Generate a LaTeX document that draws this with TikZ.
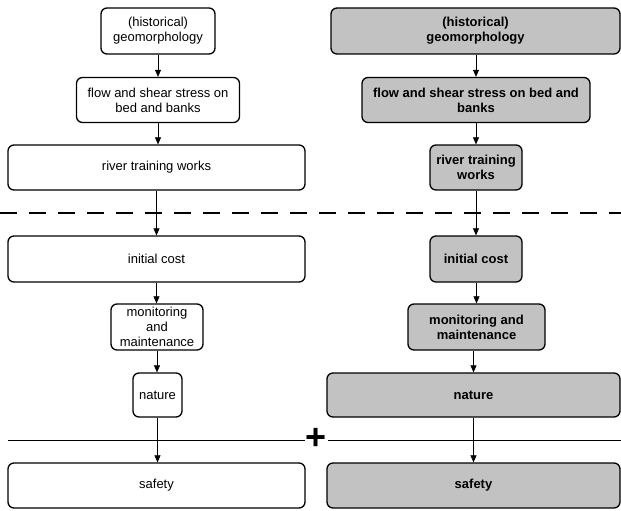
\documentclass[tikz,border=0pt]{standalone}
\usepackage{fontspec}
\setmainfont{Liberation Sans}
\usetikzlibrary{arrows.meta}
\begin{document}
\begin{tikzpicture}[x=1pt,y=-1pt,
  box/.style={draw,line width=1.3pt,rounded corners=6pt,align=center,font=\fontsize{13}{15}\selectfont,inner sep=0pt},
  lbox/.style={box,fill=white},
  rbox/.style={box,fill=gray!50!white!95,font=\fontsize{13}{15}\selectfont\bfseries},
  conn/.style={-{Triangle[width=6pt,length=7pt]},line width=0.6pt}]
\useasboundingbox (0,0) rectangle (621,511);
% left column
\node[lbox,minimum width=114pt,minimum height=46pt] (l1) at (158,31) {(historical)\\geomorphology};
\node[lbox,minimum width=163pt,minimum height=45pt] (l2) at (158,100) {flow and shear stress on\\bed and banks};
\node[lbox,minimum width=297pt,minimum height=45pt] (l3) at (156.5,167.5) {river training works};
\node[lbox,minimum width=297pt,minimum height=46pt] (l4) at (156.5,259) {initial cost};
\node[lbox,minimum width=92pt,minimum height=46pt] (l5) at (157,327) {monitoring\\and\\maintenance};
\node[lbox,minimum width=49pt,minimum height=44pt] (l6) at (157.5,395) {nature};
\node[lbox,minimum width=297pt,minimum height=45pt] (l7) at (156.5,485.5) {safety};
% right column
\node[rbox,minimum width=289pt,minimum height=46pt] (r1) at (475.5,31) {(historical)\\geomorphology};
\node[rbox,minimum width=228pt,minimum height=45pt] (r2) at (476,100) {flow and shear stress on bed and\\banks};
\node[rbox,minimum width=92pt,minimum height=45pt] (r3) at (476,167.5) {river training\\works};
\node[rbox,minimum width=92pt,minimum height=46pt] (r4) at (476,259) {initial cost};
\node[rbox,minimum width=137pt,minimum height=46pt] (r5) at (476.5,327) {monitoring and\\maintenance};
\node[rbox,minimum width=293pt,minimum height=44pt] (r6) at (473.5,395) {nature};
\node[rbox,minimum width=293pt,minimum height=45pt] (r7) at (473.5,485.5) {safety};
% separators
\coordinate (dL) at (0,213);
\coordinate (dR) at (621,213);
\draw[line width=2pt,dash pattern=on 17pt off 12pt] (dL) -- (dR);
\node[font=\fontsize{36}{36}\selectfont\bfseries,inner sep=0pt] (plus) at (316.5,438.5) {+};
\coordinate (sL) at (8,440);
\coordinate (sR) at (621,440);
\draw[line width=0.6pt] (sL) -- (305,440);
\draw[line width=0.6pt] (328,440) -- (sR);
% connectors
\foreach \a/\b in {l1/l2,l2/l3,l3/l4,l4/l5,l5/l6,l6/l7}{
  \draw[conn] (\a.south) -- (\a.south |- \b.north);}
\foreach \a/\b in {r1/r2,r2/r3,r3/r4,r4/r5,r5/r6,r6/r7}{
  \draw[conn] (\b.north |- \a.south) -- (\b.north);}
\end{tikzpicture}
\end{document}
